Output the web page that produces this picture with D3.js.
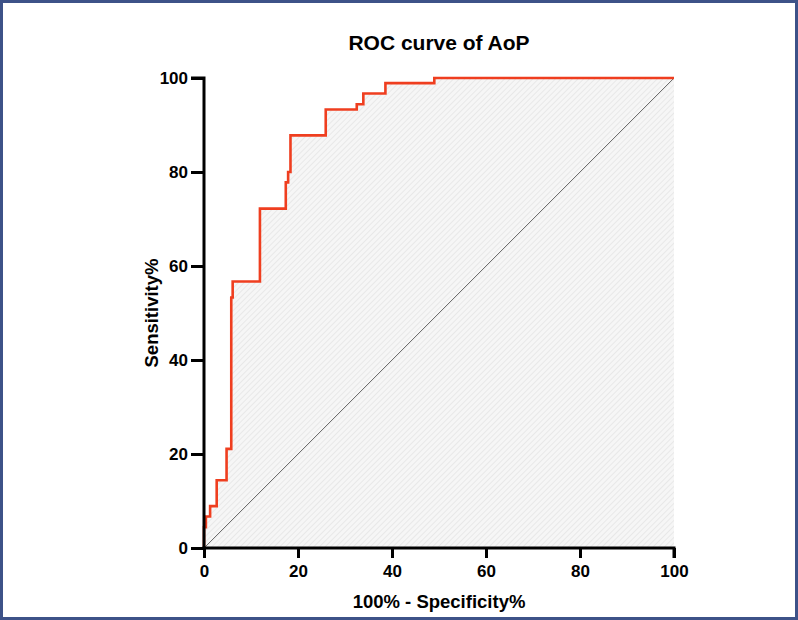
<!DOCTYPE html>
<html><head><meta charset="utf-8">
<script src="https://cdn.jsdelivr.net/npm/d3@7"></script>
<style>body{margin:0;background:#fff}svg{display:block}text{font-family:"Liberation Sans",Arial,sans-serif;font-weight:bold;fill:#000}</style>
</head><body>
<svg id="c" width="798" height="620"></svg>
<script>
// ROC curve points (100% - Specificity%, Sensitivity%)
const fpr  = [0, 0, 0.4, 0.4, 1.3, 1.3, 2.7, 2.7, 4.8, 4.8, 5.8, 5.8, 6.1, 6.1, 11.9, 11.9, 17.4, 17.4, 17.9, 17.9, 18.4, 18.4, 25.9, 25.9, 32.5, 32.5, 33.9, 33.9, 38.6, 38.6, 49.0, 49.0, 100];
const sens = [0, 4.4, 4.4, 6.7, 6.7, 8.9, 8.9, 14.4, 14.4, 21.1, 21.1, 53.3, 53.3, 56.7, 56.7, 72.2, 72.2, 77.8, 77.8, 80.0, 80.0, 87.8, 87.8, 93.3, 93.3, 94.4, 94.4, 96.7, 96.7, 98.9, 98.9, 100, 100];
const xTicks = [0, 20, 40, 60, 80, 100];
const yTicks = [0, 20, 40, 60, 80, 100];
const title = "ROC curve of AoP";
const xTitle = "100% - Specificity%";
const yTitle = "Sensitivity%";

const svg = d3.select("#c");
const W = 798, H = 620;
const m = {l: 204, r: 674, t: 78, b: 548};
const x = d3.scaleLinear().domain([0, 100]).range([m.l, m.r]);
const y = d3.scaleLinear().domain([0, 100]).range([m.b, m.t]);
const pts = fpr.map((v, i) => [v, sens[i]]);

// frame
svg.append("rect").attr("x", 1.5).attr("y", 1.5).attr("width", W - 3).attr("height", H - 3)
  .attr("fill", "#fff").attr("stroke", "#3d5288").attr("stroke-width", 3);

// hatch pattern
const defs = svg.append("defs");
const pat = defs.append("pattern").attr("id", "hatch").attr("patternUnits", "userSpaceOnUse")
  .attr("width", 4).attr("height", 4).attr("patternTransform", "rotate(-45)");
pat.append("rect").attr("width", 4).attr("height", 4).attr("fill", "#f6f6f6");
pat.append("line").attr("x1", 0).attr("y1", 0).attr("x2", 4).attr("y2", 0)
  .attr("stroke", "#e4e4e4").attr("stroke-width", 1.5);

const area = d3.area().x(d => x(d[0])).y0(y(0)).y1(d => y(d[1]));
svg.append("path").datum(pts).attr("d", area).attr("fill", "url(#hatch)");

// diagonal reference
svg.append("line").attr("x1", x(0)).attr("y1", y(0)).attr("x2", x(100)).attr("y2", y(100))
  .attr("stroke", "#333").attr("stroke-width", 0.7);

// ROC line
const line = d3.line().x(d => x(d[0])).y(d => y(d[1]));
svg.append("path").datum(pts).attr("d", line).attr("fill", "none")
  .attr("stroke", "#ef3e1f").attr("stroke-width", 2.6).attr("stroke-linejoin", "miter");

// axes
const xa = svg.append("g").attr("transform", `translate(0,${m.b})`)
  .call(d3.axisBottom(x).tickValues(xTicks).tickSize(10).tickPadding(7).tickFormat(d3.format("d")));
const ya = svg.append("g").attr("transform", `translate(${m.l},0)`)
  .call(d3.axisLeft(y).tickValues(yTicks).tickSize(13).tickPadding(3).tickFormat(d3.format("d")));
[xa, ya].forEach(g => {
  g.select(".domain").attr("stroke", "#000").attr("stroke-width", 3);
  g.selectAll(".tick line").attr("stroke", "#000").attr("stroke-width", 3);
  g.selectAll(".tick text").attr("font-size", 17).attr("font-family", "Liberation Sans, Arial, sans-serif").attr("font-weight", "bold").attr("fill", "#000");
});
xa.select(".domain").attr("d", `M${m.l - 1.5},0H${m.r}V10`);
ya.select(".domain").attr("d", `M-13,${m.t}H0V${m.b + 1.5}`);

// titles
svg.append("text").attr("x", (m.l + m.r) / 2).attr("y", 50).attr("text-anchor", "middle")
  .attr("font-size", 21).text(title);
svg.append("text").attr("x", (m.l + m.r) / 2).attr("y", 608).attr("text-anchor", "middle")
  .attr("font-size", 18.5).text(xTitle);
svg.append("text").attr("transform", `translate(158,${(m.t + m.b) / 2}) rotate(-90)`)
  .attr("text-anchor", "middle").attr("font-size", 18.5).text(yTitle);
</script>
</body></html>
